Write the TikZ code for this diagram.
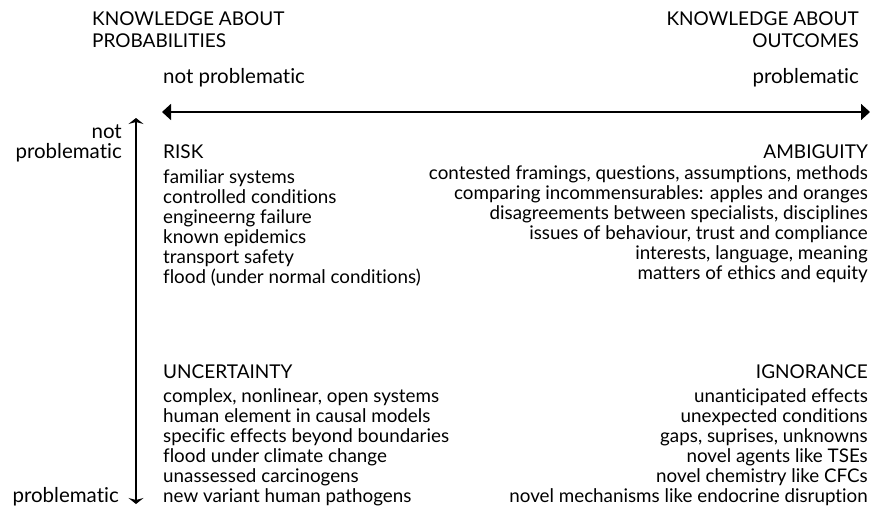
\documentclass[tikz,border=0pt]{standalone}
\usepackage{fontspec}
\setmainfont{Lato}[Ligatures=NoCommon]
\usetikzlibrary{arrows.meta, positioning}

\begin{document}
\begin{tikzpicture}[x=1pt, y=-1pt, inner sep=0pt,
    head/.style={font=\fontsize{19}{22}\selectfont},
    axlabel/.style={font=\fontsize{20.5}{20}\selectfont},
    items/.style={font=\fontsize{18.8}{20}\selectfont},
    haxis/.style={line width=1.7pt, {Triangle[length=9pt,width=16pt]}-{Triangle[length=9pt,width=16pt]}},
    vaxis/.style={line width=1.3pt, {Stealth[length=6pt,width=15pt,inset=2pt]}-{Stealth[length=6pt,width=15pt,inset=2pt]}}]
    \useasboundingbox (0,0) rectangle (874,511);

    % axis headings
    \node[head, anchor=north west, align=left] (probs) at (92,12) {KNOWLEDGE ABOUT\\PROBABILITIES};
    \node[head, anchor=north east, align=right] (outs) at (859,12) {KNOWLEDGE ABOUT\\OUTCOMES};
    \node[axlabel, anchor=base west] (hlow) at (163,83) {not problematic};
    \node[axlabel, anchor=base east] (hhigh) at (859,83) {problematic};
    \node[axlabel, anchor=north east, align=right] (vlow) at (122,125) {not\\problematic};
    \node[axlabel, anchor=base east] (vhigh) at (119,502) {problematic};

    % axes
    \coordinate (hl) at (162,112);
    \coordinate (hr) at (870,112);
    \coordinate (vt) at (136,118);
    \coordinate (vb) at (136,504);
    \draw[haxis] (hl) -- (hr);
    \draw[vaxis] (vt) -- (vb);

    % quadrants
    \node[head, anchor=base west] (risk) at (163,158) {RISK};
    \node[items, below=11pt of risk.south west, anchor=north west, align=left] (risklist)
        {familiar systems\\controlled conditions\\engineerng failure\\known epidemics\\transport safety\\flood (under normal conditions)};

    \node[head, anchor=base east] (ambig) at (868,158) {AMBIGUITY};
    \node[items, below=7pt of ambig.south east, anchor=north east, align=right] (ambiglist)
        {contested framings, questions, assumptions, methods\\comparing incommensurables: apples and oranges\\disagreements between specialists, disciplines\\issues of behaviour, trust and compliance\\interests, language, meaning\\matters of ethics and equity};

    \node[head, anchor=base west] (uncert) at (163,378) {UNCERTAINTY};
    \node[items, below=10pt of uncert.south west, anchor=north west, align=left] (uncertlist)
        {complex, nonlinear, open systems\\human element in causal models\\specific effects beyond boundaries\\flood under climate change\\unassessed carcinogens\\new variant human pathogens};

    \node[head, anchor=base east] (ignor) at (868,378) {IGNORANCE};
    \node[items, below=10pt of ignor.south east, anchor=north east, align=right] (ignorlist)
        {unanticipated effects\\unexpected conditions\\gaps, suprises, unknowns\\novel agents like TSEs\\novel chemistry like CFCs\\novel mechanisms like endocrine disruption};
\end{tikzpicture}
\end{document}
